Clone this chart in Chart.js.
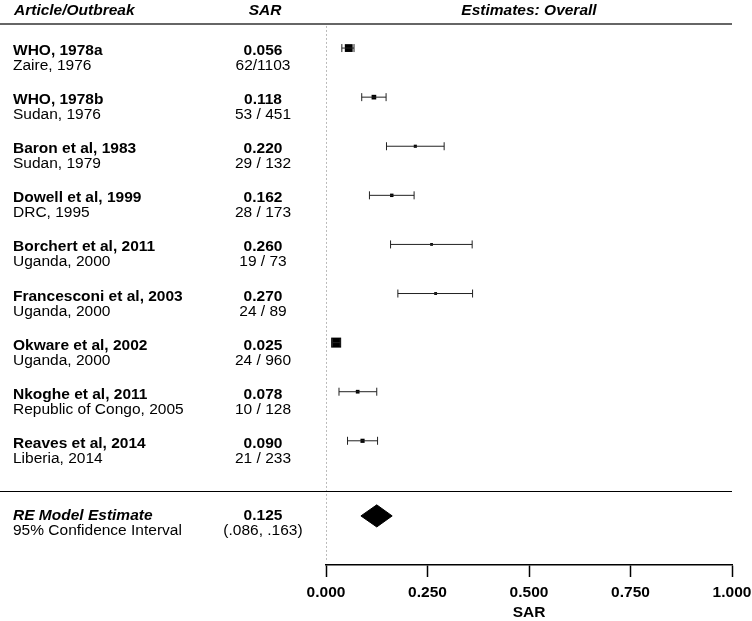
<!DOCTYPE html>
<html lang="en">
<head>
  <meta charset="UTF-8" />
  <title>Secondary attack rate forest plot</title>
  <script src="https://cdn.jsdelivr.net/npm/chart.js"></script>
  <style>
    html, body { margin: 0; padding: 0; background: #fff; }
    #wrap { width: 752px; height: 621px; }
  </style>
</head>
<body>
  <div id="wrap"><canvas id="forest" width="752" height="621"></canvas></div>

  <script>
    // study rows, top to bottom
    const studies = ['WHO, 1978a', 'WHO, 1978b', 'Baron et al, 1983', 'Dowell et al, 1999',
      'Borchert et al, 2011', 'Francesconi et al, 2003', 'Okware et al, 2002',
      'Nkoghe et al, 2011', 'Reaves et al, 2014'];
    const outbreaks = ['Zaire, 1976', 'Sudan, 1976', 'Sudan, 1979', 'DRC, 1995', 'Uganda, 2000',
      'Uganda, 2000', 'Uganda, 2000', 'Republic of Congo, 2005', 'Liberia, 2014'];
    const sar = [0.056, 0.118, 0.220, 0.162, 0.260, 0.270, 0.025, 0.078, 0.090];
    const ciLow = [0.039, 0.088, 0.149, 0.107, 0.159, 0.177, 0.016, 0.032, 0.053];
    const ciHigh = [0.069, 0.148, 0.291, 0.217, 0.360, 0.361, 0.035, 0.125, 0.127];
    const cases = [62, 53, 29, 28, 19, 24, 24, 10, 21];
    const contacts = [1103, 451, 132, 173, 73, 89, 960, 128, 233];
    const countLabels = ['62/1103', '53 / 451', '29 / 132', '28 / 173', '19 / 73',
      '24 / 89', '24 / 960', '10 / 128', '21 / 233'];

    // pooled random-effects estimate
    const reEstimate = 0.125;
    const reLow = 0.086;
    const reHigh = 0.163;

    const xTicks = [0, 0.25, 0.5, 0.75, 1];

    // row layout (y scale units, one study per unit)
    const yTop = -0.49, yBottom = 10.53;
    const sepRow = 9.03, reRow = 9.53;

    const FONT = '"Liberation Sans", Arial, sans-serif';
    const FS = 15.5;

    // box size from inverse-variance weight
    const invVar = sar.map((p, i) => contacts[i] / (p * (1 - p)));
    const maxW = Math.max(...invVar);
    const boxSide = invVar.map(w => 2 + 8 * Math.sqrt(w / maxW));

    const datasets = [];

    // dotted line at zero
    datasets.push({
      data: [{ x: 0, y: yTop + 0.04 }, { x: 0, y: yBottom - 0.06 }],
      showLine: true, borderColor: '#777', borderWidth: 1, borderDash: [2, 2],
      pointRadius: 0
    });

    // confidence intervals
    studies.forEach((s, i) => {
      datasets.push({
        data: [{ x: ciLow[i], y: i }, { x: ciHigh[i], y: i }],
        showLine: true, borderColor: '#222', borderWidth: 1,
        pointStyle: 'line', rotation: 90, pointRadius: 4, pointBorderWidth: 1
      });
    });

    // point estimates
    datasets.push({
      data: sar.map((v, i) => ({ x: v, y: i })),
      pointStyle: 'rect', backgroundColor: '#000', borderWidth: 0,
      pointRadius: boxSide.map(s => s / Math.SQRT2)
    });

    // summary diamond
    const dh = 0.225;
    datasets.push({
      data: [{ x: reLow, y: reRow }, { x: reEstimate, y: reRow - dh }, { x: reHigh, y: reRow },
        { x: reEstimate, y: reRow + dh }, { x: reLow, y: reRow }],
      showLine: true, fill: 'shape', backgroundColor: '#000', borderColor: '#000',
      borderWidth: 1, pointRadius: 0, tension: 0
    });

    const textColumns = {
      id: 'textColumns',
      afterDraw(chart) {
        const c = chart.ctx;
        const y = chart.scales.y;
        const area = chart.chartArea;
        c.save();
        c.fillStyle = '#000';
        c.textBaseline = 'alphabetic';

        // headers
        c.font = 'italic bold ' + FS + 'px ' + FONT;
        c.textAlign = 'left';
        c.fillText('Article/Outbreak', 14, area.top - 9);
        c.textAlign = 'center';
        c.fillText('SAR', 265, area.top - 9);
        c.fillText('Estimates: Overall', (area.left + area.right) / 2, area.top - 9);

        // rules
        c.strokeStyle = '#666';
        c.lineWidth = 2;
        c.beginPath();
        c.moveTo(0, area.top);
        c.lineTo(area.right, area.top);
        c.stroke();
        c.strokeStyle = '#000';
        c.lineWidth = 1;
        const sy = Math.round(y.getPixelForValue(sepRow)) + 0.5;
        c.beginPath();
        c.moveTo(0, sy);
        c.lineTo(area.right, sy);
        c.stroke();

        // study rows
        studies.forEach((s, i) => {
          const py = y.getPixelForValue(i);
          c.font = 'bold ' + FS + 'px ' + FONT;
          c.textAlign = 'left';
          c.fillText(s, 13, py + 7);
          c.textAlign = 'center';
          c.fillText(sar[i].toFixed(3), 263, py + 7);
          c.font = FS + 'px ' + FONT;
          c.textAlign = 'left';
          c.fillText(outbreaks[i], 13, py + 22);
          c.textAlign = 'center';
          c.fillText(countLabels[i], 263, py + 22);
        });

        // summary row
        const ry = y.getPixelForValue(reRow);
        c.font = 'italic bold ' + FS + 'px ' + FONT;
        c.textAlign = 'left';
        c.fillText('RE Model Estimate', 13, ry + 4);
        c.font = 'bold ' + FS + 'px ' + FONT;
        c.textAlign = 'center';
        c.fillText(reEstimate.toFixed(3), 263, ry + 4);
        c.font = FS + 'px ' + FONT;
        c.textAlign = 'left';
        c.fillText('95% Confidence Interval', 13, ry + 19);
        c.textAlign = 'center';
        const f = v => v.toFixed(3).replace(/^0/, '');
        c.fillText('(' + f(reLow) + ', ' + f(reHigh) + ')', 263, ry + 19);
        c.restore();
      }
    };

    new Chart(document.getElementById('forest'), {
      type: 'scatter',
      data: { datasets },
      options: {
        responsive: false,
        animation: false,
        layout: { padding: { left: 326, right: 20, top: 24, bottom: 0 } },
        plugins: { legend: { display: false }, tooltip: { enabled: false } },
        scales: {
          x: {
            type: 'linear', min: 0, max: 1,
            afterBuildTicks: axis => { axis.ticks = xTicks.map(v => ({ value: v })); },
            afterFit: axis => {
              axis.height = 56;
              axis.paddingLeft = 0;
              axis.paddingRight = 0;
            },
            ticks: {
              color: '#000', padding: 8,
              font: { family: FONT, size: FS, weight: 'bold', lineHeight: 1 },
              callback: v => Number(v).toFixed(3)
            },
            grid: { drawOnChartArea: false, drawTicks: true, tickLength: 12, tickColor: '#000', tickWidth: 1.5 },
            border: { display: true, color: '#000', width: 1.5 },
            title: {
              display: true, text: 'SAR', color: '#000',
              font: { family: FONT, size: FS, weight: 'bold', lineHeight: 1 },
              padding: { top: 0, bottom: 1 }
            }
          },
          y: { type: 'linear', reverse: true, min: yTop, max: yBottom, display: false }
        }
      },
      plugins: [textColumns]
    });
  </script>
</body>
</html>
